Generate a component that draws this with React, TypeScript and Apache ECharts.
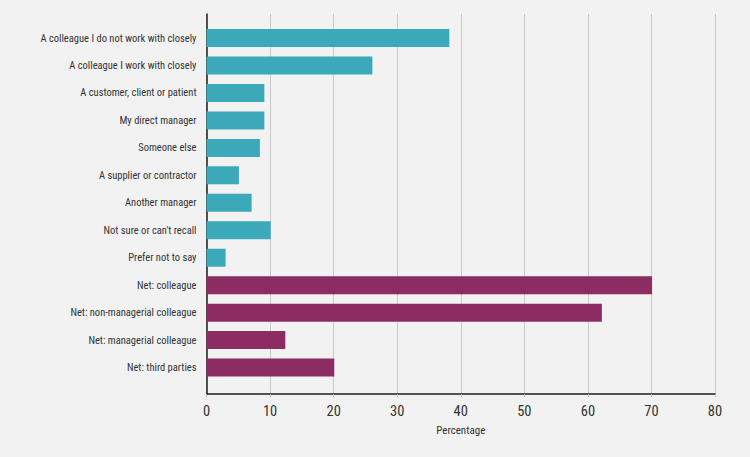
import React, { useEffect, useRef } from "react";
import * as echarts from "echarts";

// Who the respondent was targeted by (percentage of respondents)
const categories = [
  "A colleague I do not work with closely",
  "A colleague I work with closely",
  "A customer, client or patient",
  "My direct manager",
  "Someone else",
  "A supplier or contractor",
  "Another manager",
  "Not sure or can't recall",
  "Prefer not to say",
  "Net: colleague",
  "Net: non-managerial colleague",
  "Net: managerial colleague",
  "Net: third parties",
];

const values = [38.2, 26.1, 9.1, 9.1, 8.4, 5.1, 7.1, 10.1, 3.0, 70.1, 62.2, 12.4, 20.1];

// Individual answers are teal, the "Net:" groupings are plum
const isNet = categories.map((c) => c.startsWith("Net:"));

const xTicks = { min: 0, max: 80, interval: 10 };

const TEAL = "#3ba9b9";
const PLUM = "#8c2c63";
const FONT = "'Roboto Condensed', 'DejaVu Sans Condensed', sans-serif";

export default function App() {
  const ref = useRef<HTMLDivElement>(null);

  useEffect(() => {
    if (!ref.current) return;
    const chart = echarts.init(ref.current, undefined, { renderer: "svg" });

    const left = 206.5;
    const width = 508.5;

    chart.setOption({
      animation: false,
      backgroundColor: "#f2f2f2",
      textStyle: { fontFamily: FONT },
      grid: [
        // frame: gridlines, axes and the percentage scale
        { left, top: 14, width, height: 380 },
        // bars and category labels
        { left, top: 24.3, width, height: 357 },
      ],
      xAxis: [
        {
          gridIndex: 0,
          type: "value",
          min: xTicks.min,
          max: xTicks.max,
          interval: xTicks.interval,
          name: "Percentage",
          nameLocation: "middle",
          nameGap: 31,
          nameTextStyle: { fontFamily: FONT, fontSize: 11, color: "#333" },
          axisLine: { show: true, lineStyle: { color: "#1e1e1e", width: 1.5 } },
          axisTick: { show: true, length: 3, lineStyle: { color: "#bbb" } },
          axisLabel: { fontFamily: FONT, fontSize: 14.5, color: "#333", margin: 10 },
          splitLine: { show: true, lineStyle: { color: "#c9c9c9", width: 1 } },
        },
        {
          gridIndex: 1,
          type: "value",
          min: xTicks.min,
          max: xTicks.max,
          show: false,
        },
      ],
      yAxis: [
        {
          gridIndex: 0,
          type: "value",
          min: 0,
          max: 1,
          axisLine: { show: true, lineStyle: { color: "#1e1e1e", width: 1.5 } },
          axisTick: { show: false },
          axisLabel: { show: false },
          splitLine: { show: false },
        },
        {
          gridIndex: 1,
          type: "category",
          inverse: true,
          data: categories,
          axisLine: { show: false },
          axisTick: { show: false },
          axisLabel: { fontFamily: FONT, fontSize: 10.5, color: "#333", margin: 10 },
        },
      ],
      series: [
        {
          type: "bar",
          xAxisIndex: 1,
          yAxisIndex: 1,
          barWidth: 18,
          data: values.map((v, i) => ({
            value: v,
            itemStyle: { color: isNet[i] ? PLUM : TEAL },
          })),
        },
      ],
    });

    return () => chart.dispose();
  }, []);

  return (
    <div
      ref={ref}
      style={{ position: "fixed", left: 0, top: 0, width: 750, height: 457 }}
    />
  );
}
